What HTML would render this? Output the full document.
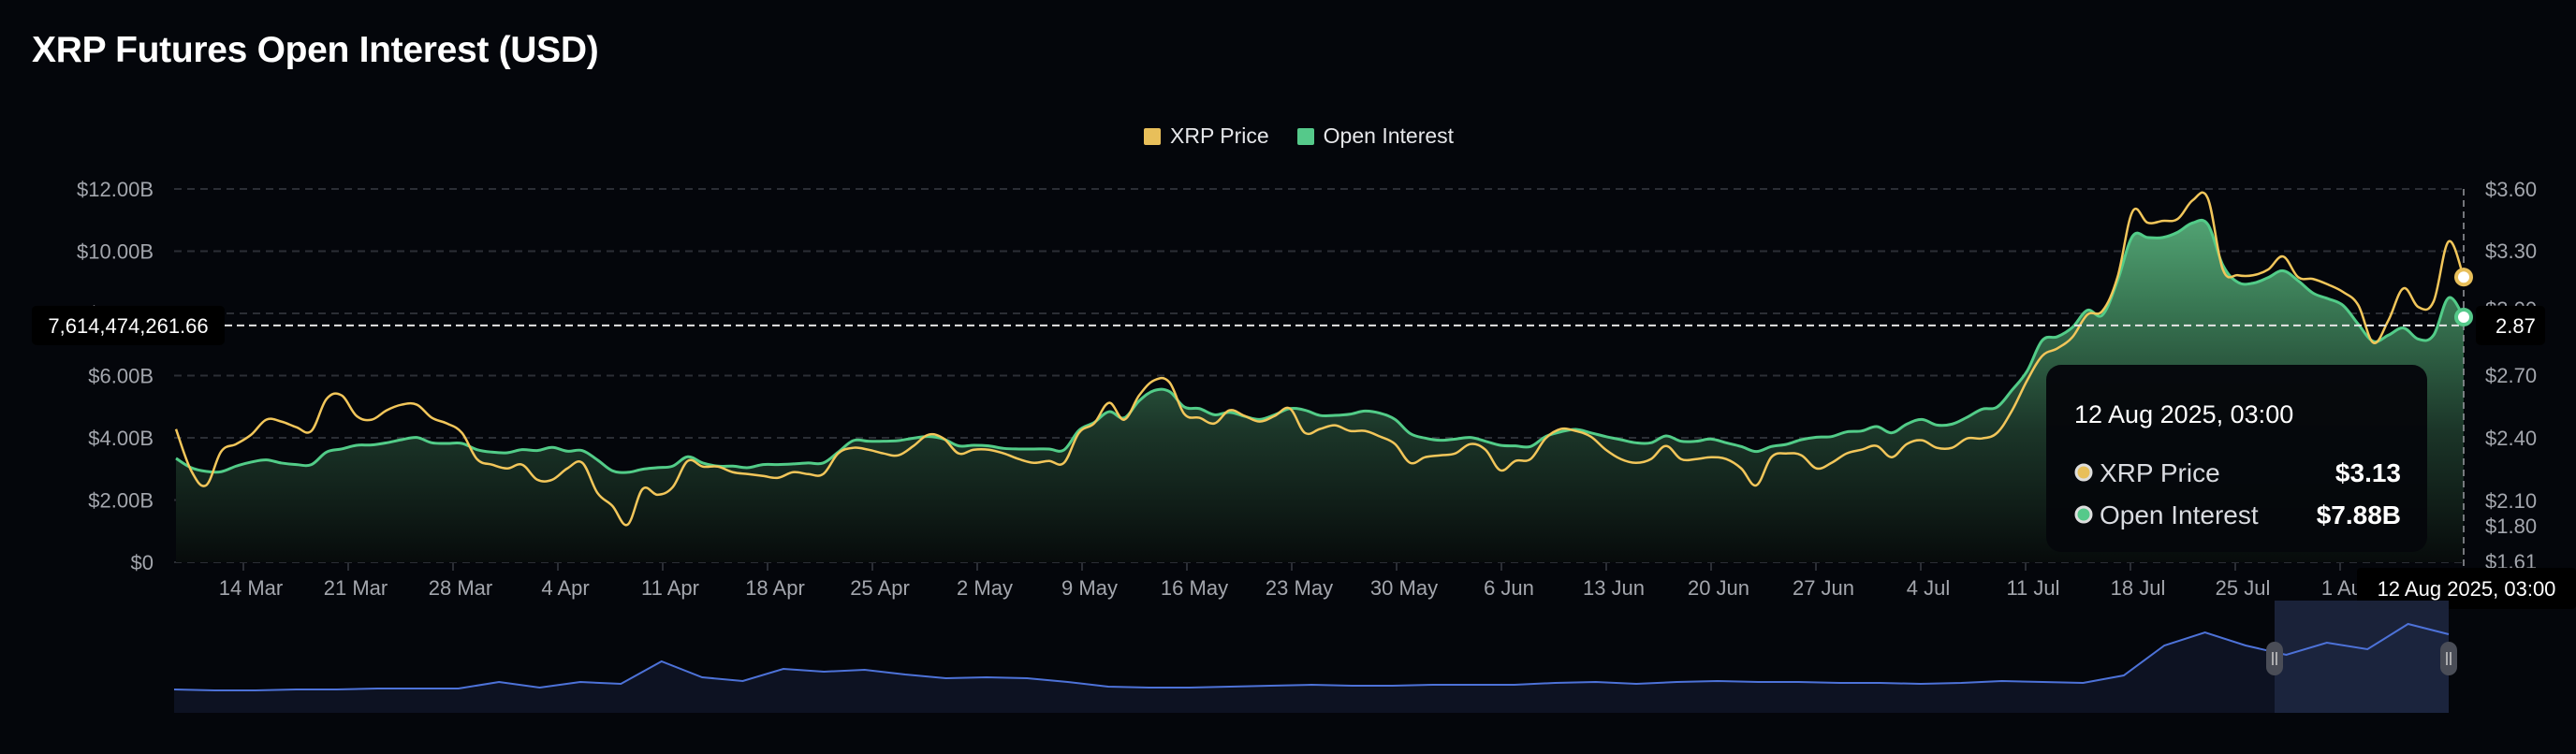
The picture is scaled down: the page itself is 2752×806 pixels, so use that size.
<!DOCTYPE html>
<html><head><meta charset="utf-8"><style>
html,body{margin:0;padding:0;background:#04060b;}
body{width:2752px;height:806px;overflow:hidden;font-family:"Liberation Sans",sans-serif;position:relative;}
.title{position:absolute;left:34px;top:32px;font-size:39px;font-weight:bold;color:#fff;letter-spacing:-0.3px}
.legend{position:absolute;top:132px;left:1222px;display:flex;gap:30px;font-size:23px;color:#e6e7ea}
.legend span.sw{display:inline-block;width:18px;height:18px;margin-right:10px;vertical-align:-2px;border-radius:2px}
</style></head><body>
<div class="title">XRP Futures Open Interest (USD)</div>
<div class="legend">
 <div><span class="sw" style="background:#e8bf5a"></span>XRP Price</div>
 <div><span class="sw" style="background:#55c98a"></span>Open Interest</div>
</div>
<svg id="chart" width="2752" height="806" style="position:absolute;left:0;top:0">
<defs>
<linearGradient id="oiFill" gradientUnits="userSpaceOnUse" x1="0" y1="202" x2="0" y2="601">
<stop offset="0" stop-color="#5ab27e"/><stop offset="0.3" stop-color="#3a7a55"/><stop offset="0.65" stop-color="#1b3528"/><stop offset="1" stop-color="#070b0b"/>
</linearGradient>
</defs>
</svg>
<script>
const oiValues=[3.34,3.04,2.92,2.91,3.09,3.22,3.29,3.19,3.14,3.14,3.54,3.64,3.76,3.77,3.84,3.94,4.01,3.84,3.82,3.82,3.62,3.54,3.52,3.62,3.59,3.69,3.57,3.59,3.29,2.94,2.89,2.99,3.04,3.09,3.39,3.19,3.09,3.09,3.04,3.14,3.14,3.16,3.19,3.19,3.54,3.91,3.89,3.89,3.91,3.99,4.04,3.96,3.74,3.76,3.74,3.66,3.64,3.64,3.64,3.61,4.24,4.49,4.84,4.64,5.19,5.52,5.49,4.99,4.94,4.74,4.82,4.69,4.59,4.74,4.94,4.89,4.72,4.72,4.76,4.86,4.79,4.59,4.14,3.99,3.92,3.96,4.01,3.89,3.76,3.74,3.72,4.04,4.19,4.27,4.16,4.04,3.94,3.84,3.84,4.06,3.89,3.89,3.96,3.84,3.72,3.56,3.72,3.79,3.94,4.02,4.04,4.19,4.22,4.36,4.16,4.44,4.59,4.41,4.44,4.66,4.92,4.99,5.54,6.15,7.13,7.25,7.55,8.10,7.95,9.05,10.48,10.44,10.44,10.61,10.91,10.86,9.55,9.00,8.97,9.15,9.37,9.05,8.65,8.47,8.25,7.65,7.10,7.30,7.53,7.17,7.30,8.50,7.88];
const priceValues=[2.32,2.10,2.02,2.20,2.24,2.29,2.37,2.36,2.33,2.31,2.48,2.50,2.39,2.37,2.42,2.45,2.45,2.38,2.35,2.30,2.16,2.13,2.11,2.13,2.05,2.05,2.11,2.14,1.98,1.91,1.81,2.00,1.97,2.01,2.15,2.12,2.12,2.09,2.08,2.07,2.06,2.09,2.08,2.08,2.19,2.22,2.21,2.19,2.18,2.23,2.29,2.27,2.19,2.21,2.21,2.19,2.16,2.14,2.15,2.14,2.30,2.35,2.46,2.37,2.50,2.58,2.57,2.40,2.38,2.35,2.42,2.39,2.36,2.39,2.43,2.30,2.32,2.34,2.31,2.31,2.28,2.24,2.14,2.17,2.18,2.19,2.24,2.21,2.10,2.15,2.16,2.27,2.32,2.31,2.28,2.21,2.16,2.14,2.16,2.23,2.16,2.16,2.17,2.16,2.11,2.02,2.17,2.19,2.18,2.11,2.14,2.19,2.21,2.23,2.17,2.24,2.26,2.22,2.22,2.27,2.27,2.30,2.42,2.58,2.71,2.75,2.81,2.93,2.95,3.13,3.48,3.42,3.43,3.44,3.54,3.55,3.17,3.14,3.14,3.17,3.24,3.13,3.12,3.09,3.05,2.98,2.78,2.90,3.07,2.97,3.00,3.32,3.13];
const miniValues=[25,24,24,25,25,26,26,26,33,27,33,31,55,38,34,47,44,46,41,37,38,37,33,28,27,27,28,29,30,29,29,30,30,30,32,33,31,33,34,33,33,32,32,31,32,34,33,32,40,72,86,72,62,75,68,95,84];
const xTickLabels=["14 Mar","21 Mar","28 Mar","4 Apr","11 Apr","18 Apr","25 Apr","2 May","9 May","16 May","23 May","30 May","6 Jun","13 Jun","20 Jun","27 Jun","4 Jul","11 Jul","18 Jul","25 Jul","1 Aug"];
const oiTicks=[0,2,4,6,8,10,12];
const oiTickLabels=["$0","$2.00B","$4.00B","$6.00B","$8.00B","$10.00B","$12.00B"];
const priceTickLabels=["$1.61","$1.80","$2.10","$2.40","$2.70","$3.00","$3.30","$3.60"];
const crossValue=7614474261.66;
const crossPrice=2.87;

const svg=document.getElementById('chart');
const NS='http://www.w3.org/2000/svg';
const L=188,R=2632,T=202,B=601;
const startDay=-4.5,endDay=148.25;
const N=oiValues.length;
const dayOf=i=>startDay+(endDay-startDay)*i/(N-1);
const xDay=d=>L+(d-startDay)/(endDay-startDay)*(R-L);
const xi=i=>xDay(dayOf(i));
const yOI=v=>B-(v/12)*(B-T);
const yP=v=>B-((v-1.61)/(3.60-1.61))*(B-T);
function el(tag,attrs,parent){const e=document.createElementNS(NS,tag);for(const k in attrs)e.setAttribute(k,attrs[k]);(parent||svg).appendChild(e);return e;}
function smooth(pts){let d='M'+pts[0][0]+','+pts[0][1];for(let i=0;i<pts.length-1;i++){const p0=pts[i-1]||pts[i],p1=pts[i],p2=pts[i+1],p3=pts[i+2]||p2;const t=0.18;d+=' C'+(p1[0]+(p2[0]-p0[0])*t)+','+(p1[1]+(p2[1]-p0[1])*t)+' '+(p2[0]-(p3[0]-p1[0])*t)+','+(p2[1]-(p3[1]-p1[1])*t)+' '+p2[0]+','+p2[1];}return d;}

oiTicks.forEach((v,k)=>{const y=yOI(v);
 const g=el('line',{x1:L-2,x2:R,y1:y,y2:y,stroke:'#2b2e35','stroke-width':2,'stroke-dasharray':'8,6'});
 
 const t=el('text',{x:164,y:y+8,'text-anchor':'end','font-size':22,fill:'#a3a6ad','font-family':'Liberation Sans'});
 t.textContent=oiTickLabels[k];
 
});
const rightY=[600,562,535,468,401,330,268,202];
priceTickLabels.forEach((s,k)=>{const t=el('text',{x:2655,y:rightY[k]+8,'font-size':22,fill:'#a3a6ad','font-family':'Liberation Sans'});t.textContent=s;
 });
xTickLabels.forEach((s,k)=>{const x=xDay(7*k);
 el('line',{x1:x,x2:x,y1:B,y2:B+9,stroke:'#2b2e35','stroke-width':2});
 const t=el('text',{x:x+8,y:636,'text-anchor':'middle','font-size':22,fill:'#a3a6ad','font-family':'Liberation Sans'});t.textContent=s;
 });

const oiPts=oiValues.map((v,i)=>[xi(i),yOI(v)]);
const lineD=smooth(oiPts);
const area=el('path',{d:lineD+' L'+R+','+B+' L'+L+','+B+' Z',fill:'url(#oiFill)'});

const oiLine=el('path',{d:lineD,fill:'none',stroke:'#52cc88','stroke-width':3});

const pPts=priceValues.map((v,i)=>[xi(i),yP(v)]);
const pLine=el('path',{d:smooth(pPts),fill:'none',stroke:'#f2c65a','stroke-width':2.5});


const cy=yOI(crossValue/1e9);
const ch=el('line',{x1:L,x2:R,y1:cy,y2:cy,stroke:'#e5e5e5','stroke-width':2,'stroke-dasharray':'8,5'});

const cv=el('line',{x1:R,x2:R,y1:T,y2:B+10,stroke:'#9a9ca2','stroke-width':1.5,'stroke-dasharray':'7,5'});

el('rect',{x:34,y:cy-21,width:206,height:42,rx:5,fill:'#000'});
const cl=el('text',{x:137,y:cy+8,'text-anchor':'middle','font-size':22,fill:'#fff','font-family':'Liberation Sans'});
cl.textContent=crossValue.toLocaleString('en-US',{minimumFractionDigits:2,maximumFractionDigits:2});

el('rect',{x:2645,y:cy-21,width:74,height:42,rx:5,fill:'#000'});
const cr=el('text',{x:2666,y:cy+8,'font-size':22,fill:'#fff','font-family':'Liberation Sans'});cr.textContent=crossPrice.toFixed(2);


const pd=el('circle',{cx:xi(N-1),cy:yP(priceValues[N-1]),r:8,fill:'#fff',stroke:'#e8bf5a','stroke-width':4});

const od=el('circle',{cx:xi(N-1),cy:yOI(oiValues[N-1]),r:8,fill:'#fff',stroke:'#55c98a','stroke-width':4});


const tg=el('g',{});
el('rect',{x:2186,y:390,width:407,height:200,rx:16,fill:'#05070b','fill-opacity':0.97},tg);
const tt=el('text',{x:2216,y:452,'font-size':27,fill:'#fff','font-family':'Liberation Sans'},tg);tt.textContent='12 Aug 2025, 03:00';
el('circle',{cx:2226,cy:505,r:8,fill:'#e8bf5a',stroke:'#ddd','stroke-width':3},tg);
const r1=el('text',{x:2243,y:515,'font-size':28,fill:'#d9dbe0','font-family':'Liberation Sans'},tg);r1.textContent='XRP Price';
const v1=el('text',{x:2565,y:515,'text-anchor':'end','font-size':28,'font-weight':'bold',fill:'#fff','font-family':'Liberation Sans'},tg);v1.textContent='$'+priceValues[N-1].toFixed(2);
el('circle',{cx:2226,cy:550,r:8,fill:'#55c98a',stroke:'#ddd','stroke-width':3},tg);
const r2=el('text',{x:2243,y:560,'font-size':28,fill:'#d9dbe0','font-family':'Liberation Sans'},tg);r2.textContent='Open Interest';
const v2=el('text',{x:2565,y:560,'text-anchor':'end','font-size':28,'font-weight':'bold',fill:'#fff','font-family':'Liberation Sans'},tg);v2.textContent='$'+oiValues[N-1].toFixed(2)+'B';

el('rect',{x:2518,y:607,width:234,height:44,rx:4,fill:'#000'});
const bd=el('text',{x:2635,y:637,'text-anchor':'middle','font-size':22,fill:'#fff','font-family':'Liberation Sans'});bd.textContent='12 Aug 2025, 03:00';


const ML=186,MR=2616,MB=762,MT=642;
const mg=el('g',{});
const mx=i=>ML+(MR-ML)*i/(miniValues.length-1);
const my=v=>MB-v;
let md='M'+mx(0)+','+my(miniValues[0]);miniValues.forEach((v,i)=>{if(i)md+=' L'+mx(i)+','+my(v);});
el('path',{d:md+' L'+MR+','+MB+' L'+ML+','+MB+' Z',fill:'#0d1222'},mg);
const sel=el('rect',{x:2430,y:MT,width:MR-2430,height:MB-MT,fill:'#1f2842','fill-opacity':0.85},mg);

const ml=el('path',{d:md,fill:'none',stroke:'#4d72d8','stroke-width':2},mg);

[2430,2616].forEach(hx=>{const h=el('rect',{x:hx-9,y:686,width:18,height:36,rx:9,fill:'#4a4d57'},mg);
 
 el('line',{x1:hx-2,x2:hx-2,y1:697,y2:711,stroke:'#ccc','stroke-width':1.5},mg);
 el('line',{x1:hx+2,x2:hx+2,y1:697,y2:711,stroke:'#ccc','stroke-width':1.5},mg);});
</script>
</body></html>
